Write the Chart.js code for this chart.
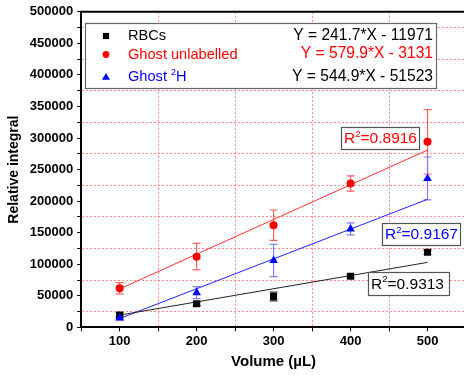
<!DOCTYPE html>
<html>
<head>
<meta charset="utf-8">
<script src="https://cdn.jsdelivr.net/npm/chart.js@4"></script>
<style>
    html, body { margin: 0; padding: 0; overflow: hidden; background: #fff; }
    #wrap { position: absolute; left: 0; top: 0; width: 471px; height: 375px; }
</style>
</head>
<body>
<div id="wrap"><canvas id="chart"></canvas></div>
<script>
const volumes = [100, 200, 300, 400, 500];

const rbcValues = [19500, 37500, 49000, 81000, 119000];
const rbcErrors = [4000, 3000, 7000, 2500, 3500];

const ghostValues = [62000, 112000, 162000, 228000, 294000];
const ghostErrors = [9000, 21000, 24000, 12000, 51000];

const ghost2HValues = [15000, 55000, 106000, 156000, 236000];
const ghost2HErrors = [3000, 9500, 25500, 9500, 34000];

// fitted lines, end points as drawn
const fitVolumes = [100, 500];
const rbcFit = [19500, 103000];
const ghostFit = [61000, 281000];
const ghost2HFit = [14000, 203000];

const equations = ["Y = 241.7*X - 11971", "Y = 579.9*X - 3131", "Y = 544.9*X - 51523"];
const rSquared = ["0.9313", "0.8916", "0.9167"];

const FONT = '"Liberation Sans", Arial, sans-serif';
Chart.defaults.font.family = FONT;

function toPoints(xs, ys) {
    return xs.map((x, i) => ({ x: x, y: ys[i] }));
}

function drawMarker(ctx, style, x, y, r, color) {
    ctx.fillStyle = color;
    ctx.beginPath();
    if (style === "rect") {
        ctx.rect(x - r * 0.72, y - r * 0.72, r * 1.44, r * 1.44);
    } else if (style === "circle") {
        ctx.arc(x, y, r, 0, Math.PI * 2);
    } else {
        ctx.moveTo(x, y - r);
        ctx.lineTo(x + r * 0.87, y + r * 0.5);
        ctx.lineTo(x - r * 0.87, y + r * 0.5);
        ctx.closePath();
    }
    ctx.fill();
}

// text with a superscript part: parts = [[text, isSup], ...]
function drawRich(ctx, parts, x, y, size, color, align) {
    ctx.save();
    ctx.fillStyle = color;
    ctx.textBaseline = "middle";
    ctx.textAlign = "left";
    let total = 0;
    parts.forEach(p => {
        ctx.font = (p[1] ? size * 0.62 : size) + "px " + FONT;
        total += ctx.measureText(p[0]).width;
    });
    let cx = align === "right" ? x - total : x;
    parts.forEach(p => {
        ctx.font = (p[1] ? size * 0.62 : size) + "px " + FONT;
        ctx.fillText(p[0], cx, p[1] ? y - size * 0.33 : y);
        cx += ctx.measureText(p[0]).width;
    });
    ctx.restore();
    return total;
}

const errorBars = {
    id: "errorBars",
    beforeDatasetsDraw(chart) {
        const ctx = chart.ctx;
        const xs = chart.scales.x;
        const ys = chart.scales.y;
        const sets = [
            [rbcValues, rbcErrors, "#333333"],
            [ghostValues, ghostErrors, "#ff6060"],
            [ghost2HValues, ghost2HErrors, "#8080ff"]
        ];
        ctx.save();
        ctx.lineWidth = 1.2;
        sets.forEach(s => {
            ctx.strokeStyle = s[2];
            volumes.forEach((v, i) => {
                const px = xs.getPixelForValue(v);
                const top = ys.getPixelForValue(s[0][i] + s[1][i]);
                const bot = ys.getPixelForValue(s[0][i] - s[1][i]);
                ctx.beginPath();
                ctx.moveTo(px, top); ctx.lineTo(px, bot);
                ctx.moveTo(px - 4, top); ctx.lineTo(px + 4, top);
                ctx.moveTo(px - 4, bot); ctx.lineTo(px + 4, bot);
                ctx.stroke();
            });
        });
        ctx.restore();
    }
};

const annotations = {
    id: "annotations",
    afterDraw(chart) {
        const ctx = chart.ctx;
        const area = chart.chartArea;
        ctx.save();

        // top frame line
        ctx.strokeStyle = "#000";
        ctx.lineWidth = 2;
        ctx.beginPath();
        ctx.moveTo(area.left - 1, area.top);
        ctx.lineTo(chart.width, area.top);
        ctx.stroke();

        // legend box
        ctx.fillStyle = "#fff";
        ctx.fillRect(85, 23, 352, 65);
        ctx.strokeStyle = "#666";
        ctx.lineWidth = 1.2;
        ctx.strokeRect(85.5, 23.5, 351, 65);

        drawMarker(ctx, "rect", 106, 36, 4.3, "#000");
        drawMarker(ctx, "circle", 106, 54.5, 3.4, "#ff0000");
        drawMarker(ctx, "triangle", 106, 77.5, 4.6, "#0000ff");

        drawRich(ctx, [["RBCs", false]], 128, 36, 14.6, "#000", "left");
        drawRich(ctx, [["Ghost unlabelled", false]], 128, 54.5, 14.6, "#ff0000", "left");
        drawRich(ctx, [["Ghost ", false], ["2", true], ["H", false]], 128, 77, 14.6, "#0000ff", "left");

        drawRich(ctx, [[equations[0], false]], 433, 35.5, 15.6, "#000", "right");
        drawRich(ctx, [[equations[1], false]], 433, 54, 15.6, "#ff0000", "right");
        drawRich(ctx, [[equations[2], false]], 433, 77, 15.6, "#000", "right");

        // R squared boxes
        const boxes = [
            [368, 272, 81, 23, rSquared[0], "#000"],
            [341, 127, 78, 22, rSquared[1], "#ff0000"],
            [382, 223, 78, 22, rSquared[2], "#0000ff"]
        ];
        boxes.forEach(b => {
            ctx.fillStyle = "#fff";
            ctx.fillRect(b[0], b[1], b[2], b[3]);
            ctx.strokeStyle = "#555";
            ctx.lineWidth = 1.2;
            ctx.strokeRect(b[0] + 0.5, b[1] + 0.5, b[2], b[3]);
            drawRich(ctx, [["R", false], ["2", true], ["=" + b[4], false]],
                b[0] + 3, b[1] + b[3] / 2 + 1, 15.5, b[5], "left");
        });

        ctx.restore();
    }
};

const gridRed = "rgba(255, 90, 90, 0.7)";

new Chart(document.getElementById("chart").getContext("2d"), {
    type: "scatter",
    data: {
        datasets: [
            {
                label: "Ghost 2H",
                data: toPoints(volumes, ghost2HValues),
                pointStyle: "triangle",
                pointRadius: 5,
                backgroundColor: "#0000ff",
                borderColor: "#0000ff",
                borderWidth: 0,
                order: 0
            },
            {
                label: "RBCs",
                data: toPoints(volumes, rbcValues),
                pointStyle: "rect",
                pointRadius: 5,
                backgroundColor: "#000",
                borderColor: "#000",
                borderWidth: 0,
                order: 0
            },
            {
                label: "Ghost unlabelled",
                data: toPoints(volumes, ghostValues),
                pointStyle: "circle",
                pointRadius: 4,
                backgroundColor: "#ff0000",
                borderColor: "#ff0000",
                borderWidth: 0,
                order: 0
            },
            {
                type: "line",
                data: toPoints(fitVolumes, rbcFit),
                borderColor: "#222",
                borderWidth: 1,
                pointRadius: 0,
                order: 1
            },
            {
                type: "line",
                data: toPoints(fitVolumes, ghostFit),
                borderColor: "#ff3030",
                borderWidth: 1,
                pointRadius: 0,
                order: 1
            },
            {
                type: "line",
                data: toPoints(fitVolumes, ghost2HFit),
                borderColor: "#2020ff",
                borderWidth: 1,
                pointRadius: 0,
                order: 1
            }
        ]
    },
    options: {
        responsive: true,
        maintainAspectRatio: false,
        animation: false,
        layout: { padding: { left: 2, right: 2, top: 6, bottom: 3 } },
        plugins: {
            legend: { display: false },
            tooltip: { enabled: false }
        },
        scales: {
            x: {
                type: "linear",
                min: 50,
                max: 550,
                border: { color: "#000", width: 2, dash: [2, 2] },
                grid: {
                    color: c => (c.tick && c.tick.value % 100 === 50 && c.tick.value > 50 && c.tick.value < 550) ? gridRed : "rgba(0,0,0,0)",
                    tickColor: "#000",
                    tickLength: 4,
                    lineWidth: 1
                },
                ticks: {
                    stepSize: 50,
                    autoSkip: false,
                    maxRotation: 0,
                    padding: 2,
                    color: "#000",
                    font: { size: 13, weight: "bold" },
                    callback: v => v % 100 === 0 ? String(v) : ""
                },
                title: {
                    display: true,
                    text: "Volume (µL)",
                    color: "#000",
                    font: { size: 15, weight: "bold" },
                    padding: { top: 2, bottom: 1 }
                }
            },
            y: {
                type: "linear",
                min: 0,
                max: 500000,
                border: { color: "#000", width: 2, dash: [2, 2] },
                grid: {
                    color: c => (c.tick && c.tick.value % 50000 === 25000) ? gridRed : "rgba(0,0,0,0)",
                    tickColor: "#000",
                    tickLength: 4,
                    lineWidth: 1
                },
                ticks: {
                    stepSize: 25000,
                    autoSkip: false,
                    padding: 4,
                    color: "#000",
                    font: { size: 13, weight: "bold" },
                    callback: v => v % 50000 === 0 ? String(v) : ""
                },
                title: {
                    display: true,
                    text: "Relative integral",
                    color: "#000",
                    font: { size: 14, weight: "bold" },
                    padding: { top: 4, bottom: 3 }
                }
            }
        }
    },
    plugins: [errorBars, annotations]
});
</script>
</body>
</html>
